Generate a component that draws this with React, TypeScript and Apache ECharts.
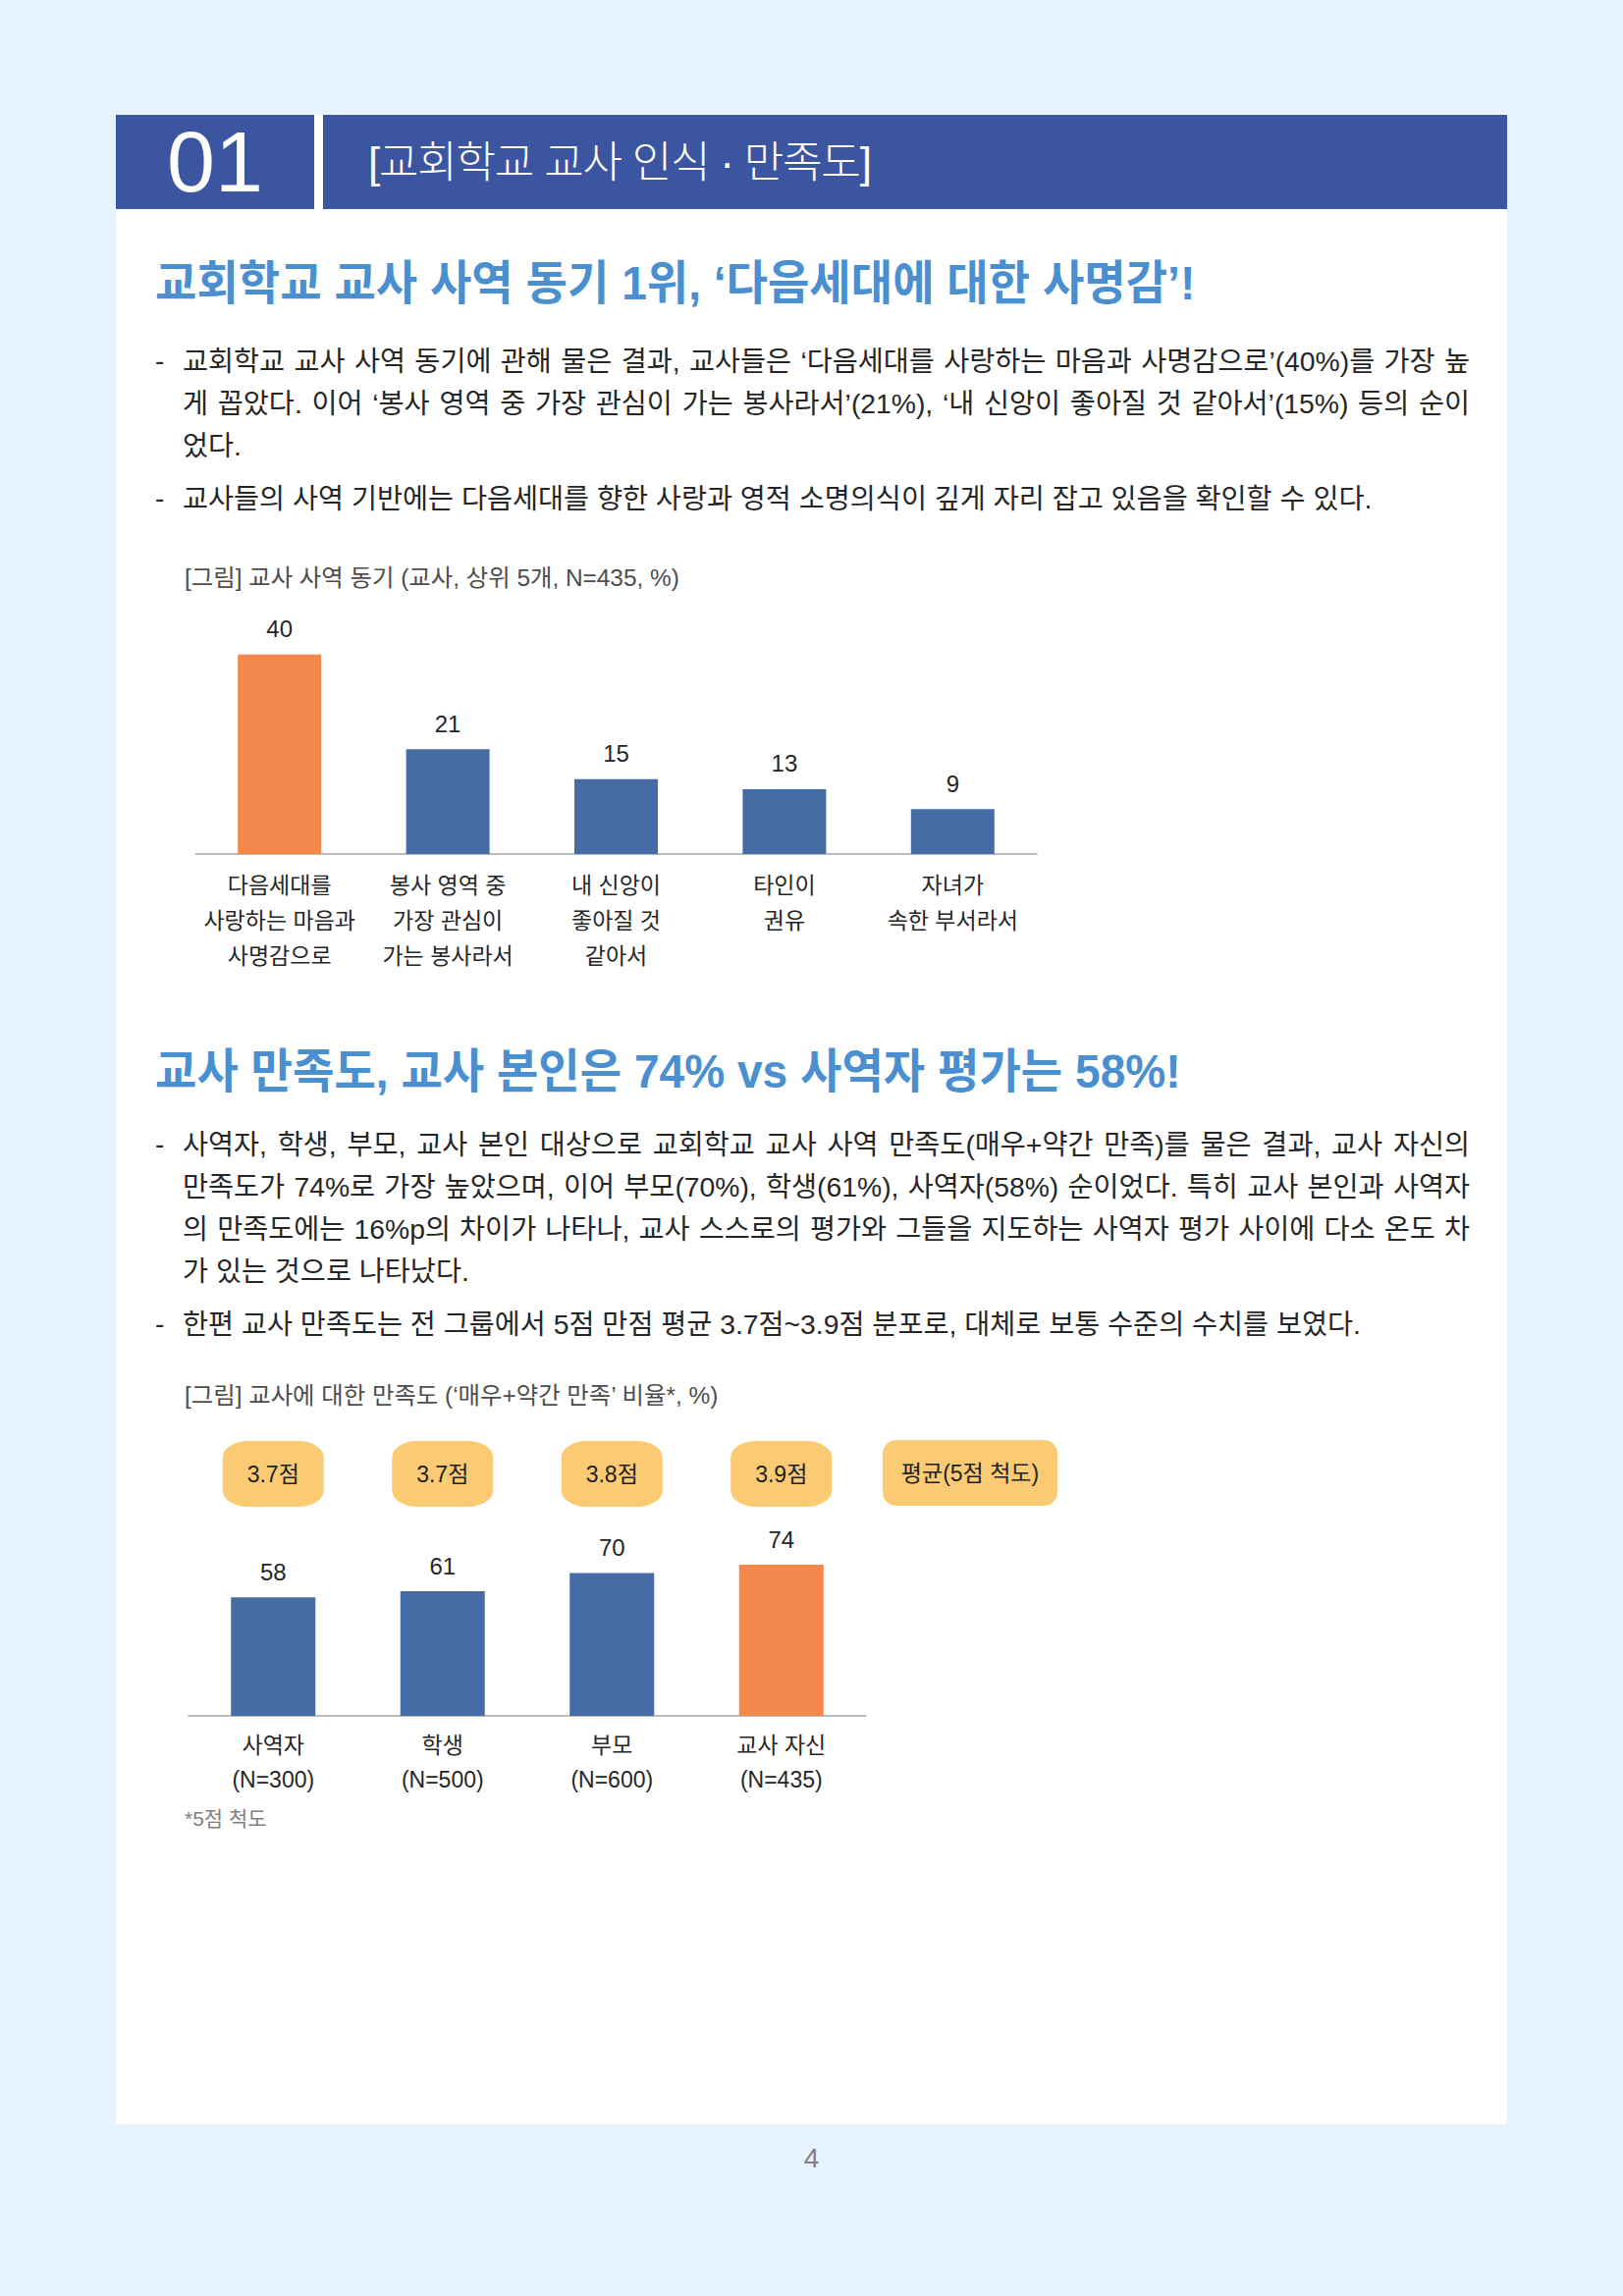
import { useEffect, useRef } from 'react'
import * as echarts from 'echarts'

// 교사 사역 동기 (상위 5개)
const motiveLabels = [
  '다음세대를\n사랑하는 마음과\n사명감으로',
  '봉사 영역 중\n가장 관심이\n가는 봉사라서',
  '내 신앙이\n좋아질 것\n같아서',
  '타인이\n권유',
  '자녀가\n속한 부서라서'
]
const motiveValues = [40, 21, 15, 13, 9]

// 교사에 대한 만족도
const groupLabels = ['사역자\n(N=300)', '학생\n(N=500)', '부모\n(N=600)', '교사 자신\n(N=435)']
const satisfactionValues = [58, 61, 70, 74]
const averageScores = [3.7, 3.7, 3.8, 3.9]

const FONT = '"Liberation Sans", "Noto Sans CJK KR", sans-serif'
const ORANGE = '#f4874b'
const BLUE = '#466ca6'
const YELLOW = '#fbcb74'
const NAVY = '#3c55a1'
const SKY = '#4a8fd0'
const TEXT = '#262626'

const motiveOption = {
  animation: false,
  textStyle: { fontFamily: FONT },
  grid: { left: 49, top: 16, width: 857, height: 254 },
  xAxis: {
    type: 'category',
    data: motiveLabels,
    axisLine: { lineStyle: { color: '#a6a6a6', width: 1.5 } },
    axisTick: { show: false },
    axisLabel: { interval: 0, margin: 14, fontSize: 23, lineHeight: 36, color: TEXT, fontFamily: FONT }
  },
  yAxis: { type: 'value', min: 0, max: 50, show: false },
  series: [
    {
      type: 'bar',
      barWidth: 85,
      data: motiveValues.map((v, i) => ({ value: v, itemStyle: { color: i === 0 ? ORANGE : BLUE } })),
      label: { show: true, position: 'top', distance: 14, fontSize: 24, color: TEXT, fontFamily: FONT }
    }
  ]
}

const BOX_Y = 118.5

const satisfactionOption = {
  animation: false,
  textStyle: { fontFamily: FONT },
  grid: { left: 42, top: 48.4, width: 690, height: 249.6 },
  xAxis: {
    type: 'category',
    data: groupLabels,
    axisLine: { lineStyle: { color: '#a6a6a6', width: 1.5 } },
    axisTick: { show: false },
    axisLabel: { interval: 0, margin: 12, fontSize: 23, lineHeight: 35, color: TEXT, fontFamily: FONT }
  },
  yAxis: { type: 'value', min: 0, max: 120, show: false },
  series: [
    {
      type: 'bar',
      barWidth: 86,
      data: satisfactionValues.map((v, i) => ({
        value: v,
        itemStyle: { color: i === satisfactionValues.length - 1 ? ORANGE : BLUE }
      })),
      label: { show: true, position: 'top', distance: 14, fontSize: 24, color: TEXT, fontFamily: FONT }
    },
    {
      type: 'scatter',
      clip: false,
      symbol: 'roundRect',
      symbolSize: [103, 67],
      itemStyle: { color: YELLOW, opacity: 1 },
      data: averageScores.map((s, i) => [i, BOX_Y]),
      label: {
        show: true,
        position: 'inside',
        formatter: (p: any) => `${averageScores[p.dataIndex].toFixed(1)}점`,
        fontSize: 23,
        color: '#222',
        fontFamily: FONT
      }
    }
  ],
  graphic: [
    {
      type: 'group',
      left: 749,
      top: 17,
      children: [
        { type: 'rect', shape: { x: 0, y: 0, width: 178, height: 67, r: 14 }, style: { fill: YELLOW } },
        {
          type: 'text',
          x: 89,
          y: 33.5,
          style: {
            text: '평균(5점 척도)',
            align: 'center',
            verticalAlign: 'middle',
            textAlign: 'center',
            textVerticalAlign: 'middle',
            fontSize: 23,
            fontWeight: 'normal',
            fontFamily: FONT,
            fill: '#222'
          }
        }
      ]
    }
  ]
}

function ChartBox({ option, left, top, width, height }: { option: any; left: number; top: number; width: number; height: number }) {
  const ref = useRef<HTMLDivElement>(null)

  useEffect(() => {
    if (!ref.current) return
    const chart = echarts.init(ref.current, undefined, { renderer: 'svg' })
    chart.setOption(option)
    return () => chart.dispose()
  }, [option])

  return <div ref={ref} style={{ position: 'absolute', left, top, width, height }} />
}

// 본문 한 줄 (center y 기준)
function Line({ y, text, dash, justify }: { y: number; text: string; dash?: boolean; justify?: boolean }) {
  return (
    <>
      {dash && (
        <div style={{ position: 'absolute', left: 158, top: y - 22, lineHeight: '44px', fontSize: 28, color: TEXT }}>-</div>
      )}
      <div
        style={{
          position: 'absolute',
          left: 186,
          top: y - 22,
          width: 1311,
          height: 44,
          lineHeight: '44px',
          fontSize: 28.3,
          color: TEXT,
          whiteSpace: 'nowrap',
          textAlign: justify ? 'justify' : 'left',
          textAlignLast: justify ? 'justify' : 'left'
        }}
      >
        {text}
      </div>
    </>
  )
}

function Heading({ y, text }: { y: number; text: string }) {
  return (
    <div
      style={{
        position: 'absolute',
        left: 158,
        top: y - 30,
        lineHeight: '60px',
        fontSize: 48,
        fontWeight: 700,
        color: SKY,
        whiteSpace: 'nowrap',
        transform: 'scaleX(0.96)',
        transformOrigin: 'left center'
      }}
    >
      {text}
    </div>
  )
}

function Caption({ y, text, size = 24.4, color = '#4d4d4d' }: { y: number; text: string; size?: number; color?: string }) {
  return (
    <div
      style={{
        position: 'absolute',
        left: 188,
        top: y - 18,
        lineHeight: '36px',
        fontSize: size,
        color,
        whiteSpace: 'nowrap'
      }}
    >
      {text}
    </div>
  )
}

export default function App() {
  return (
    <div
      style={{
        position: 'absolute',
        left: 0,
        top: 0,
        width: 1653,
        height: 2339,
        background: '#e7f3fc',
        fontFamily: FONT,
        overflow: 'hidden'
      }}
    >
      <div style={{ position: 'absolute', left: 118, top: 117, width: 1417, height: 2047, background: '#ffffff' }} />

      <div
        style={{
          position: 'absolute',
          left: 118,
          top: 117,
          width: 202,
          height: 96,
          background: NAVY,
          color: '#fff',
          fontSize: 88,
          lineHeight: '96px',
          textAlign: 'center',
          fontFamily: '"Liberation Sans", sans-serif'
        }}
      >
        01
      </div>
      <div style={{ position: 'absolute', left: 329, top: 117, width: 1206, height: 96, background: NAVY }} />
      <div
        style={{
          position: 'absolute',
          left: 375,
          top: 136,
          lineHeight: '60px',
          fontSize: 44,
          fontWeight: 300,
          letterSpacing: -1.2,
          color: '#fff',
          whiteSpace: 'nowrap'
        }}
      >
        [교회학교 교사 인식 · 만족도]
      </div>

      <Heading y={289} text="교회학교 교사 사역 동기 1위, ‘다음세대에 대한 사명감’!" />
      <Line
        y={368}
        dash
        justify
        text="교회학교 교사 사역 동기에 관해 물은 결과, 교사들은 ‘다음세대를 사랑하는 마음과 사명감으로’(40%)를 가장 높"
      />
      <Line
        y={411}
        justify
        text="게 꼽았다. 이어 ‘봉사 영역 중 가장 관심이 가는 봉사라서’(21%), ‘내 신앙이 좋아질 것 같아서’(15%) 등의 순이"
      />
      <Line y={454} text="었다." />
      <Line
        y={508}
        dash
        text="교사들의 사역 기반에는 다음세대를 향한 사랑과 영적 소명의식이 깊게 자리 잡고 있음을 확인할 수 있다."
      />

      <Caption y={589} text="[그림] 교사 사역 동기 (교사, 상위 5개, N=435, %)" />
      <ChartBox option={motiveOption} left={150} top={600} width={950} height={420} />

      <Heading y={1092} text="교사 만족도, 교사 본인은 74% vs 사역자 평가는 58%!" />
      <Line
        y={1166}
        dash
        justify
        text="사역자, 학생, 부모, 교사 본인 대상으로 교회학교 교사 사역 만족도(매우+약간 만족)를 물은 결과, 교사 자신의"
      />
      <Line
        y={1209}
        justify
        text="만족도가 74%로 가장 높았으며, 이어 부모(70%), 학생(61%), 사역자(58%) 순이었다. 특히 교사 본인과 사역자"
      />
      <Line
        y={1252}
        justify
        text="의 만족도에는 16%p의 차이가 나타나, 교사 스스로의 평가와 그들을 지도하는 사역자 평가 사이에 다소 온도 차"
      />
      <Line y={1295} text="가 있는 것으로 나타났다." />
      <Line
        y={1349}
        dash
        text="한편 교사 만족도는 전 그룹에서 5점 만점 평균 3.7점~3.9점 분포로, 대체로 보통 수준의 수치를 보였다."
      />

      <Caption y={1422} text="[그림] 교사에 대한 만족도 (‘매우+약간 만족’ 비율*, %)" />
      <ChartBox option={satisfactionOption} left={150} top={1450} width={950} height={430} />
      <Caption y={1853} text="*5점 척도" size={21} color="#7f7f7f" />

      <div
        style={{
          position: 'absolute',
          left: 0,
          width: 1653,
          top: 2183,
          lineHeight: '32px',
          fontSize: 28,
          textAlign: 'center',
          color: '#808080'
        }}
      >
        4
      </div>
    </div>
  )
}
